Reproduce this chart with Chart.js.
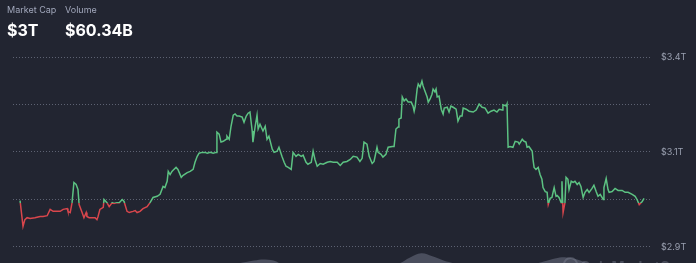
<!DOCTYPE html>
<html>
<head>
<meta charset="utf-8">
<script src="https://cdn.jsdelivr.net/npm/chart.js@4"></script>
<style>
  html, body { margin: 0; padding: 0; background: #222531; overflow: hidden; }
  #wrap { position: relative; width: 696px; height: 263px; overflow: hidden; background: #222531; font-family: Inter, "Noto Sans", sans-serif; }
  #c { position: absolute; left: 0; top: 0; }
  .lbl { position: absolute; top: 4px; font-size: 9px; color: #a1a7bb; white-space: nowrap; }
  .val { position: absolute; top: 20px; font-size: 16px; font-weight: 700; color: #ffffff; white-space: nowrap; }
  #wm { position: absolute; left: 580px; top: 258px; font-size: 14px; font-weight: 700; color: rgba(130,135,152,0.4); white-space: nowrap; }
  #wmlogo { position: absolute; left: 563px; top: 257px; width: 11px; height: 11px; border: 2px solid rgba(130,135,152,0.4); border-radius: 50%; }
</style>
</head>
<body>
<div id="wrap">
  <canvas id="c" width="696" height="280"></canvas>
  <div class="lbl" style="left:7px">Market Cap</div>
  <div class="lbl" style="left:65px">Volume</div>
  <div class="val" style="left:7px">$3T</div>
  <div class="val" style="left:65px">$60.34B</div>
  <div id="wmlogo"></div>
  <div id="wm">CoinMarketCap</div>
</div>
<script>
// ---- data ----
const hours = [0,0.8,1.3,1.9,2.7,4.0,5.4,6.2,7.3,8.1,8.9,10.0,10.8,11.6,12.7,12.9,13.5,14.0,14.5,15.1,15.6,15.9,16.7,17.2,17.8,18.0,18.6,19.4,20.2,20.7,21.0,21.5,22.4,22.6,23.4,24.0,24.8,25.3,26.1,26.7,27.5,28.0,28.8,29.4,30.4,31.0,31.5,32.3,33.1,34.2,35.0,35.8,36.9,37.7,38.5,39.0,39.6,39.9,40.4,40.9,41.2,42.0,42.5,43.4,43.9,45.0,45.8,46.6,47.1,47.7,48.2,49.0,49.8,50.4,51.2,52.0,52.8,53.0,53.6,54.1,54.7,55.5,55.7,56.3,56.8,57.4,57.9,58.4,59.0,59.8,60.3,60.9,61.4,61.9,62.5,62.7,63.3,63.8,64.1,64.6,65.4,66.0,66.5,67.0,67.9,68.4,69.2,69.7,70.5,71.1,71.6,72.2,73.0,73.5,74.3,74.9,75.7,76.2,77.0,77.5,78.4,78.9,79.4,80.0,80.8,81.6,82.7,83.5,84.3,85.4,86.2,87.0,88.0,88.9,89.7,90.7,91.5,92.1,92.6,93.4,94.0,94.8,95.3,96.1,96.4,97.2,97.7,98.5,99.1,100.2,100.7,101.2,101.8,102.0,102.6,102.9,103.4,103.9,104.5,105.3,105.8,106.1,106.4,106.9,107.2,107.7,108.2,108.5,109.0,109.6,109.9,110.4,110.9,111.2,111.7,112.0,112.3,112.8,113.4,113.9,114.2,115.0,115.5,116.0,116.6,117.4,117.9,118.5,119.0,119.3,120.1,120.9,122.0,122.8,123.6,124.4,125.2,126.0,126.8,127.6,128.4,129.0,129.8,130.0,130.9,131.1,131.4,131.9,132.7,133.3,134.1,134.4,135.2,135.7,136.2,136.5,137.0,137.9,138.1,138.4,138.9,139.5,140.0,140.5,140.8,141.4,141.9,142.2,142.7,143.2,143.5,143.8,144.3,144.6,145.1,145.7,145.9,146.2,146.7,147.0,147.5,147.8,148.4,148.9,149.4,150.0,150.5,151.0,151.6,152.1,152.7,153.2,154.0,154.5,155.1,155.6,156.2,157.0,157.2,157.8,158.3,158.6,159.4,160.2,161.0,162.1,162.9,163.7,164.8,165.6,166.1,166.7,167.5,168.0];
const marketCapT = [2.997,2.932,2.949,2.954,2.952,2.954,2.957,2.957,2.959,2.975,2.970,2.970,2.970,2.975,2.977,2.970,2.967,2.992,3.043,3.038,3.025,2.987,2.967,2.954,2.967,2.957,2.954,2.954,2.954,2.949,2.957,2.975,2.980,3.000,2.992,2.982,2.992,2.990,2.992,2.992,3.000,2.995,2.970,2.967,2.970,2.972,2.967,2.970,2.977,2.982,2.992,3.005,3.008,3.013,3.033,3.030,3.046,3.071,3.063,3.071,3.074,3.081,3.076,3.056,3.061,3.068,3.071,3.076,3.094,3.109,3.117,3.119,3.119,3.117,3.119,3.117,3.119,3.170,3.165,3.145,3.147,3.152,3.160,3.152,3.185,3.213,3.216,3.211,3.211,3.208,3.195,3.211,3.218,3.221,3.173,3.145,3.185,3.213,3.178,3.190,3.173,3.185,3.152,3.160,3.127,3.119,3.122,3.132,3.109,3.094,3.084,3.081,3.076,3.119,3.109,3.114,3.109,3.112,3.094,3.089,3.094,3.122,3.101,3.084,3.091,3.089,3.094,3.096,3.094,3.094,3.086,3.094,3.096,3.101,3.109,3.107,3.096,3.104,3.145,3.140,3.109,3.091,3.096,3.132,3.119,3.114,3.107,3.114,3.132,3.134,3.134,3.178,3.183,3.203,3.206,3.259,3.249,3.254,3.246,3.246,3.236,3.223,3.236,3.279,3.292,3.284,3.299,3.287,3.274,3.259,3.246,3.254,3.266,3.279,3.272,3.279,3.259,3.261,3.228,3.216,3.231,3.233,3.221,3.236,3.233,3.228,3.198,3.211,3.211,3.231,3.228,3.223,3.221,3.226,3.241,3.233,3.231,3.218,3.223,3.226,3.221,3.228,3.226,3.239,3.236,3.241,3.132,3.134,3.132,3.147,3.145,3.140,3.152,3.147,3.145,3.132,3.134,3.122,3.101,3.081,3.076,3.081,3.063,3.051,3.030,3.020,3.018,2.987,3.003,3.005,3.018,3.030,3.008,3.010,3.005,2.992,3.046,2.967,2.992,3.056,3.051,3.025,3.046,3.043,3.046,3.038,3.043,3.033,3.005,3.018,3.025,3.018,3.028,3.036,3.020,3.008,3.013,3.000,3.030,3.053,3.025,3.018,3.020,3.028,3.023,3.023,3.018,3.018,3.013,3.008,3.000,2.987,2.995,3.003];
const baselineT = 2.990;
const volumeHours = [0,6,12,18,24,30,36,42,48,54,60,63,66,69,72,78,84,90,96,102,105,108,111,114,117,120,126,132,138,141,144,147,150,153,156,162,168];
const volumeB = [48,45,50,47,44,42,50,52,50,53,56,58,59,57,50,45,40,42,48,55,61,65,62,58,55,52,46,50,54,57,60,61,59,55,52,50,52];
const tickValues = [2.88, 3.00, 3.12, 3.24, 3.36];
const tickLabels = ['$2.9T', '', '$3.1T', '', '$3.4T'];

const GREEN = '#5cc282';
const RED = '#d9464c';

function splitColor(context) {
  const chart = context.chart;
  const area = chart.chartArea;
  if (!area) return GREEN;
  const yb = chart.scales.y.getPixelForValue(baselineT);
  let stop = (yb - area.top) / (area.bottom - area.top);
  stop = Math.min(1, Math.max(0, stop));
  const g = chart.ctx.createLinearGradient(0, area.top, 0, area.bottom);
  g.addColorStop(0, GREEN);
  g.addColorStop(stop, GREEN);
  g.addColorStop(stop, RED);
  g.addColorStop(1, RED);
  return g;
}

const priceData = hours.map((h, i) => ({ x: h, y: marketCapT[i] }));
const volData = volumeHours.map((h, i) => ({ x: h, y: volumeB[i] }));

new Chart(document.getElementById('c'), {
  type: 'line',
  data: {
    datasets: [
      {
        label: 'Market Cap',
        data: priceData,
        yAxisID: 'y',
        borderColor: splitColor,
        borderWidth: 1.5,
        pointRadius: 0,
        tension: 0,
        fill: false,
        order: 1
      },
      {
        label: 'Volume',
        data: volData,
        yAxisID: 'yv',
        borderWidth: 0,
        borderColor: 'rgba(0,0,0,0)',
        backgroundColor: '#4a4e5d',
        pointRadius: 0,
        tension: 0.4,
        fill: 'start',
        order: 2
      }
    ]
  },
  options: {
    responsive: false,
    animation: false,
    layout: { padding: { top: 57, left: 13, right: 0, bottom: 0 } },
    plugins: { legend: { display: false }, tooltip: { enabled: false } },
    scales: {
      x: { type: 'linear', display: false, min: -1.9, max: 169.6 },
      y: {
        position: 'right',
        min: 2.838,
        max: 3.36,
        afterBuildTicks: (axis) => { axis.ticks = tickValues.map(v => ({ value: v })); },
        afterFit: (axis) => { axis.width = 46; },
        grid: { color: '#5d6272', lineWidth: 1, drawTicks: false },
        border: { display: false, dash: [1, 2] },
        ticks: {
          autoSkip: false,
          padding: 11,
          color: '#9aa0b0',
          font: { family: 'Inter', size: 9 },
          callback: (value, index) => tickLabels[index]
        }
      },
      yv: { display: false, min: 55, max: 255 }
    }
  }
});
</script>
</body>
</html>
